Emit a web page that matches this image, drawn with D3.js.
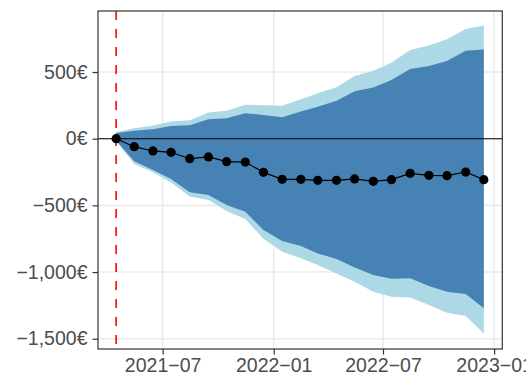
<!DOCTYPE html>
<html>
<head>
<meta charset="utf-8">
<script src="https://cdn.jsdelivr.net/npm/d3@7"></script>
<style>
  html, body { margin: 0; padding: 0; background: #fff; }
  svg { display: block; font-family: "Liberation Sans", Arial, sans-serif; }
</style>
</head>
<body>
<svg id="chart" width="526" height="383"></svg>
<script>
// Monthly observations (mid-month)
const dates = [
  "2021-04-15","2021-05-15","2021-06-15","2021-07-15","2021-08-15","2021-09-15",
  "2021-10-15","2021-11-15","2021-12-15","2022-01-15","2022-02-15","2022-03-15",
  "2022-04-15","2022-05-15","2022-06-15","2022-07-15","2022-08-15","2022-09-15",
  "2022-10-15","2022-11-15","2022-12-15"
];
// Observed cumulative difference (€)
const observed = [0, -60, -92, -102, -150, -137, -172, -175, -252, -305, -305,
  -312, -312, -302, -320, -307, -260, -275, -277, -250, -307];
// Inner interval (dark band)
const innerUpper = [43, 60, 70, 95, 100, 146, 153, 190, 178, 161, 203, 240, 285,
  356, 383, 440, 523, 545, 583, 660, 668];
const innerLower = [-15, -170, -235, -303, -401, -422, -497, -548, -685, -767,
  -805, -860, -902, -965, -1022, -1050, -1047, -1105, -1148, -1165, -1272];
// Outer interval (light band)
const outerUpper = [50, 78, 98, 128, 138, 197, 209, 255, 251, 247, 296, 341, 386,
  470, 510, 570, 665, 698, 745, 823, 848];
const outerLower = [-17, -190, -252, -328, -433, -460, -542, -602, -751, -847,
  -897, -947, -1010, -1072, -1147, -1185, -1190, -1247, -1305, -1330, -1460];
// Axis ticks
const yTicks = [500, 0, -500, -1000, -1500];
const xTicks = ["2021-07-01", "2022-01-01", "2022-07-01", "2023-01-01"];
const startDate = "2021-04-15";

const parse = d3.utcParse("%Y-%m-%d");
const rows = dates.map((d, i) => ({
  date: parse(d), obs: observed[i],
  iu: innerUpper[i], il: innerLower[i], ou: outerUpper[i], ol: outerLower[i]
}));

const panel = { left: 98, right: 502.3, top: 11, bottom: 349 };
const svg = d3.select("#chart");

const x = d3.scaleUtc()
  .domain([parse("2021-03-16"), new Date(Date.UTC(2023, 0, 14, 14))])
  .range([panel.left, panel.right]);
const y = d3.scaleLinear()
  .domain([-1577, 957.5])
  .range([panel.bottom, panel.top]);

svg.append("clipPath").attr("id", "panel-clip")
  .append("rect")
  .attr("x", panel.left).attr("y", panel.top)
  .attr("width", panel.right - panel.left).attr("height", panel.bottom - panel.top);

// Grid
const grid = svg.append("g");
grid.selectAll("line.gy").data(yTicks).join("line")
  .attr("x1", panel.left).attr("x2", panel.right)
  .attr("y1", d => y(d)).attr("y2", d => y(d))
  .attr("stroke", "#EBEBEB").attr("stroke-width", 1.6);
grid.selectAll("line.gx").data(xTicks.map(parse)).join("line")
  .attr("y1", panel.top).attr("y2", panel.bottom)
  .attr("x1", d => x(d)).attr("x2", d => x(d))
  .attr("stroke", "#EBEBEB").attr("stroke-width", 1.6);

const plot = svg.append("g").attr("clip-path", "url(#panel-clip)");

// Bands
const outerArea = d3.area().x(d => x(d.date)).y0(d => y(d.ol)).y1(d => y(d.ou));
const innerArea = d3.area().x(d => x(d.date)).y0(d => y(d.il)).y1(d => y(d.iu));
plot.append("path").datum(rows).attr("d", outerArea).attr("fill", "#ADD8E6");
plot.append("path").datum(rows).attr("d", innerArea).attr("fill", "#4682B4");

// Zero reference
plot.append("line")
  .attr("x1", panel.left).attr("x2", panel.right)
  .attr("y1", y(0)).attr("y2", y(0))
  .attr("stroke", "#000").attr("stroke-width", 1.1);

// Start marker
plot.append("line")
  .attr("x1", x(parse(startDate))).attr("x2", x(parse(startDate)))
  .attr("y1", panel.top).attr("y2", panel.bottom)
  .attr("stroke", "#FF0000").attr("stroke-width", 1.6)
  .attr("stroke-dasharray", "9,9");

// Observed series
plot.append("path").datum(rows)
  .attr("d", d3.line().x(d => x(d.date)).y(d => y(d.obs)))
  .attr("fill", "none").attr("stroke", "#000").attr("stroke-width", 1.2);
plot.selectAll("circle").data(rows).join("circle")
  .attr("cx", d => x(d.date)).attr("cy", d => y(d.obs))
  .attr("r", 4.6).attr("fill", "#000");

// Panel border
svg.append("rect")
  .attr("x", panel.left).attr("y", panel.top)
  .attr("width", panel.right - panel.left).attr("height", panel.bottom - panel.top)
  .attr("fill", "none").attr("stroke", "#333333").attr("stroke-width", 1.2);

// Axes
const euro = d => (d < 0 ? "\u2212" : "") + d3.format(",")(Math.abs(d)) + "€";
const yAxis = d3.axisLeft(y).tickValues(yTicks).tickSize(5.5).tickPadding(5).tickFormat(euro);
const fmtX = d3.utcFormat("%Y-%m");
const xAxis = d3.axisBottom(x).tickValues(xTicks.map(parse)).tickSize(5.5).tickPadding(4)
  .tickFormat(d => fmtX(d).replace("-", "\u2212"));

const gy = svg.append("g").attr("transform", `translate(${panel.left},0)`).call(yAxis);
const gx = svg.append("g").attr("transform", `translate(0,${panel.bottom})`).call(xAxis);
[gy, gx].forEach(g => {
  g.select(".domain").remove();
  g.selectAll(".tick line").attr("stroke", "#333333").attr("stroke-width", 1.2);
  g.selectAll(".tick text").attr("fill", "#4D4D4D")
    .style("font-size", "19.5px").style("font-family", "'Liberation Sans', Arial, sans-serif");
});
</script>
</body>
</html>
